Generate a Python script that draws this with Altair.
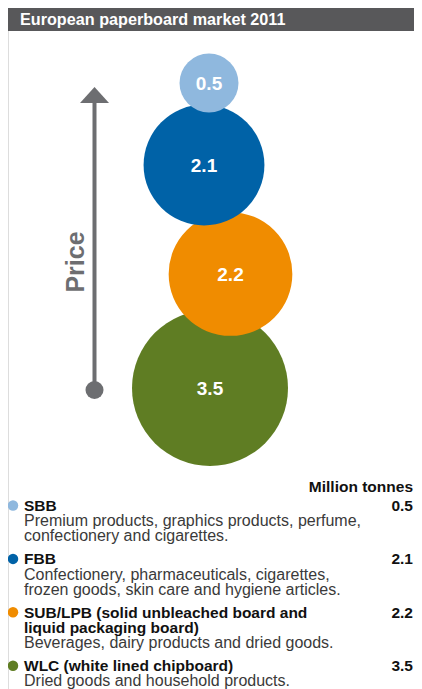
import altair as alt
import pandas as pd

# ---------------- data ----------------
TITLE = "European paperboard market 2011"
UNIT_LABEL = "Million tonnes"
AXIS_LABEL = "Price"
CATEGORIES = ["SBB", "FBB", "SUB/LPB", "WLC"]
VALUES = [0.5, 2.1, 2.2, 3.5]
VALUE_LABELS = ["0.5", "2.1", "2.2", "3.5"]
COLORS = ["#8fb8de", "#0062a7", "#f08c00", "#5f7d23"]
HEADINGS = [
    ["SBB"],
    ["FBB"],
    ["SUB/LPB (solid unbleached board and", "liquid packaging board)"],
    ["WLC (white lined chipboard)"],
]
DESCRIPTIONS = [
    ["Premium products, graphics products, perfume,", "confectionery and cigarettes."],
    ["Confectionery, pharmaceuticals, cigarettes,", "frozen goods, skin care and hygiene articles."],
    ["Beverages, dairy products and dried goods."],
    ["Dried goods and household products."],
]

# ---------------- layout (chart units) ----------------
W, H = 406, 681
BUBBLE_X = [201, 196, 222.5, 202]
BUBBLE_Y = [75, 157, 266, 380]
Z_ORDER = [4, 3, 2, 1]
ARROW_X = 86.5
ARROW_TOP, ARROW_BOTTOM, ARROW_TIP = 95, 382, 87
LEGEND_TOP = 503
LINE_STEP = 15.2
GROUP_GAP = 7.8
TEXT_X = 16
VALUE_X = 405
DOT_X = 5

GRAY = "#6d6e71"
FONT = "Liberation Sans"

xs = alt.Scale(domain=[0, W], nice=False, zero=False)
ys = alt.Scale(domain=[0, H], nice=False, zero=False, reverse=True)


def X(f="x"):
    return alt.X(f"{f}:Q", scale=xs, axis=None)


def Y(f="y"):
    return alt.Y(f"{f}:Q", scale=ys, axis=None)


bubbles = pd.DataFrame({
    "category": CATEGORIES,
    "value": VALUES,
    "label": VALUE_LABELS,
    "x": BUBBLE_X,
    "y": BUBBLE_Y,
    "z": Z_ORDER,
})

# legend rows
rows = []
dots = []
line = 0
for g, (cat, heads, descs, vlab) in enumerate(zip(CATEGORIES, HEADINGS, DESCRIPTIONS, VALUE_LABELS)):
    first_y = LEGEND_TOP + LINE_STEP * line + GROUP_GAP * g
    dots.append({"category": cat, "x": DOT_X, "y": first_y - 5.5, "value": vlab, "vx": VALUE_X})
    for h in heads:
        rows.append({"text": h, "kind": "head", "x": TEXT_X,
                     "y": LEGEND_TOP + LINE_STEP * line + GROUP_GAP * g})
        line += 1
    for d in descs:
        rows.append({"text": d, "kind": "desc", "x": TEXT_X,
                     "y": LEGEND_TOP + LINE_STEP * line + GROUP_GAP * g})
        line += 1
legend_rows = pd.DataFrame(rows)
legend_dots = pd.DataFrame(dots)

# title bar
title_df = pd.DataFrame({"x": [0], "x2": [W], "y": [0], "y2": [23], "tx": [12], "ty": [17], "t": [TITLE]})
title_bar = alt.Chart(title_df).mark_rect(color="#58585a").encode(
    x=X(), x2="x2:Q", y=Y(), y2="y2:Q")
title_text = alt.Chart(title_df).mark_text(
    align="left", baseline="alphabetic", color="white", font=FONT, fontSize=16.2, fontWeight="bold"
).encode(x=X("tx"), y=Y("ty"), text="t:N")

# price arrow
arrow_df = pd.DataFrame({"x": [ARROW_X], "y": [ARROW_TOP], "y2": [ARROW_BOTTOM],
                         "ty": [ARROW_TIP], "by": [ARROW_BOTTOM], "lx": [68], "ly": [254],
                         "t": [AXIS_LABEL]})
arrow_line = alt.Chart(arrow_df).mark_rule(color=GRAY, strokeWidth=4).encode(
    x=X(), y=Y(), y2="y2:Q")
arrow_head = alt.Chart(arrow_df).mark_point(
    shape="M0,-0.55L1,0.55L-1,0.55Z", filled=True, opacity=1, color=GRAY, size=841, strokeWidth=0
).encode(x=X(), y=Y("ty"))
arrow_dot = alt.Chart(arrow_df).mark_circle(color=GRAY, size=324, opacity=1).encode(
    x=X(), y=Y("by"))
arrow_label = alt.Chart(arrow_df).mark_text(
    angle=270, align="center", baseline="middle", color=GRAY, font=FONT, fontSize=25, fontWeight="bold"
).encode(x=X("lx"), y=Y("ly"), text="t:N")

color = alt.Color("category:N", scale=alt.Scale(domain=CATEGORIES, range=COLORS), legend=None)

bubble_marks = alt.Chart(bubbles).mark_circle(opacity=1).encode(
    x=X(), y=Y(),
    size=alt.Size("value:Q", scale=alt.Scale(domain=[0, 3.5], range=[0, 156 ** 2]), legend=None),
    color=color,
    order=alt.Order("z:Q"),
)
bubble_labels = alt.Chart(bubbles).mark_text(
    color="white", font=FONT, fontSize=19, fontWeight="bold", baseline="middle", align="center", dy=1
).encode(x=X(), y=Y(), text="label:N")

unit_df = pd.DataFrame({"x": [VALUE_X], "y": [484], "t": [UNIT_LABEL]})
unit_text = alt.Chart(unit_df).mark_text(
    align="right", baseline="alphabetic", color="#111111", font=FONT, fontSize=15.5, fontWeight="bold"
).encode(x=X(), y=Y(), text="t:N")

legend_dot_marks = alt.Chart(legend_dots).mark_circle(size=110, opacity=1).encode(
    x=X(), y=Y(), color=color)
legend_values = alt.Chart(legend_dots).mark_text(
    align="right", baseline="alphabetic", color="#111111", font=FONT, fontSize=15.5, fontWeight="bold", dy=5.5
).encode(x=X("vx"), y=Y(), text="value:N")
legend_heads = alt.Chart(legend_rows).transform_filter(alt.datum.kind == "head").mark_text(
    align="left", baseline="alphabetic", color="#111111", font=FONT, fontSize=15.5, fontWeight="bold"
).encode(x=X(), y=Y(), text="text:N")
legend_descs = alt.Chart(legend_rows).transform_filter(alt.datum.kind == "desc").mark_text(
    align="left", baseline="alphabetic", color="#3a3a3a", font=FONT, fontSize=16
).encode(x=X(), y=Y(), text="text:N")

chart = alt.layer(
    title_bar, title_text,
    arrow_line, arrow_head, arrow_dot, arrow_label,
    bubble_marks, bubble_labels,
    unit_text, legend_dot_marks, legend_values, legend_heads, legend_descs,
).properties(
    width=W, height=H, padding=0, autosize=alt.AutoSizeParams(type="none")
).configure_view(stroke=None).configure(background="white")

chart.save("out.html", embed_options={"renderer": "svg", "actions": False})
